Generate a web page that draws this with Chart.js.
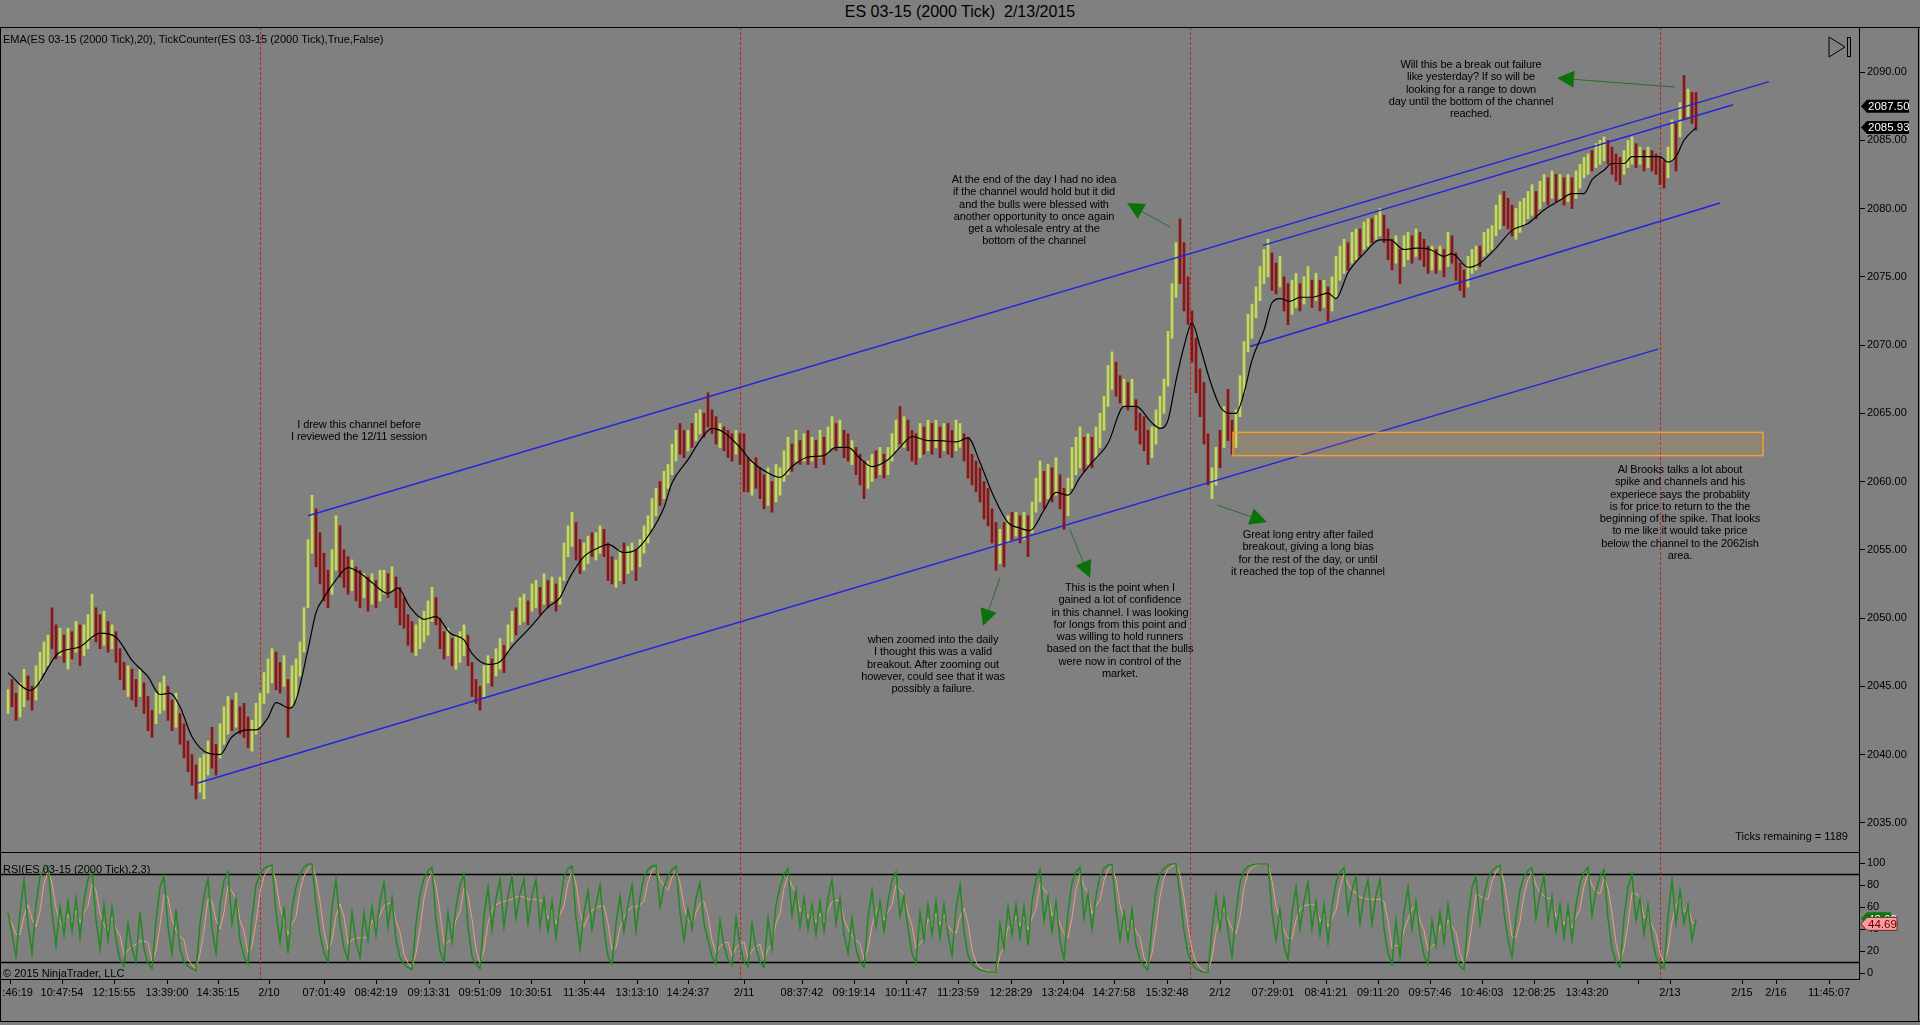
<!DOCTYPE html>
<html>
<head>
<meta charset="utf-8">
<script src="https://cdn.jsdelivr.net/npm/chart.js@4.4.1/dist/chart.umd.min.js"></script>
<style>
  html, body { margin: 0; padding: 0; background: #808080; }
  body { width: 1920px; height: 1025px; position: relative; overflow: hidden;
         font-family: "Liberation Sans", Arial, sans-serif; color: #000; }
  .line { position: absolute; background: #000; }
  .txt  { position: absolute; font-size: 11px; line-height: 12px; white-space: nowrap; }
  .note { position: absolute; font-size: 11px; line-height: 12.3px; text-align: center;
          white-space: nowrap; transform: translateX(-50%); letter-spacing: -0.1px; }
  #title { position: absolute; left: 0; top: 3px; width: 1920px; text-align: center; font-size: 16px; }
  #priceBox { position: absolute; left: 0; top: 27px; width: 1920px; height: 825px; }
  #rsiBox   { position: absolute; left: 0; top: 852px; width: 1920px; height: 168px; }
</style>
</head>
<body>
<div id="title">ES 03-15 (2000 Tick)&nbsp;&nbsp;2/13/2015</div>
<div id="priceBox"><canvas id="price"></canvas></div>
<div id="rsiBox"><canvas id="rsi"></canvas></div>

<!-- frame -->
<div class="line" style="left:0;top:27px;width:1920px;height:1px"></div>
<div class="line" style="left:0;top:27px;width:1px;height:994px"></div>
<div class="line" style="left:1918px;top:27px;width:1px;height:994px"></div>
<div class="line" style="left:0;top:1021px;width:1920px;height:1px"></div>
<div class="line" style="left:0;top:852px;width:1859px;height:1px"></div>

<div class="txt" style="left:3px;top:33px">EMA(ES 03-15 (2000 Tick),20), TickCounter(ES 03-15 (2000 Tick),True,False)</div>
<div class="txt" style="left:3px;top:863px">RSI(ES 03-15 (2000 Tick),2,3)</div>
<div class="txt" style="left:3px;top:967px">© 2015 NinjaTrader, LLC</div>
<div class="txt" style="right:72px;top:830px">Ticks remaining = 1189</div>

<svg style="position:absolute;left:1826px;top:35px" width="28" height="26">
  <polygon points="3,2 3,22 19,12" fill="none" stroke="#000" stroke-width="1"/>
  <rect x="21.5" y="2.5" width="3" height="19" fill="none" stroke="#000" stroke-width="1"/>
</svg>

<div class="note" style="left:359px;top:418px">I drew this channel before<br>I reviewed the 12/11 session</div>
<div class="note" style="left:1034px;top:173px">At the end of the day I had no idea<br>if the channel would hold but it did<br>and the bulls were blessed with<br>another opportunity to once again<br>get a wholesale entry at the<br>bottom of the channel</div>
<div class="note" style="left:1471px;top:58px">Will this be a break out failure<br>like yesterday? If so will be<br>looking for a range to down<br>day until the bottom of the channel<br>reached.</div>
<div class="note" style="left:933px;top:633px">when zoomed into the daily<br>I thought this was a valid<br>breakout. After zooming out<br>however, could see that it was<br>possibly a failure.</div>
<div class="note" style="left:1120px;top:581px">This is the point when I<br>gained a lot of confidence<br>in this channel. I was looking<br>for longs from this point and<br>was willing to hold runners<br>based on the fact that the bulls<br>were now in control of the<br>market.</div>
<div class="note" style="left:1308px;top:528px">Great long entry after failed<br>breakout, giving a long bias<br>for the rest of the day, or until<br>it reached the top of the channel</div>
<div class="note" style="left:1680px;top:463px">Al Brooks talks a lot about<br>spike and channels and his<br>experiece says the probablity<br>is for price to return to the the<br>beginning of the spike. That looks<br>to me like it would take price<br>below the channel to the 2062ish<br>area.</div>

<script>
// ---- bar data (one entry per 2000-tick bar) ----
const barLow = [
  2043.0, 2043.5, 2042.5, 2042.75, 2043.5, 2044.0, 2043.25, 2044.0, 2045.25, 2046.0,
  2046.5, 2047.75, 2047.0, 2047.25, 2046.75, 2046.25, 2047.0, 2047.5, 2046.5, 2047.25,
  2047.75, 2048.5, 2048.25, 2047.75, 2048.0, 2047.5, 2047.75, 2046.75, 2045.5, 2044.75,
  2044.25, 2044.0, 2043.5, 2044.25, 2043.0, 2041.75, 2041.25, 2042.25, 2043.0, 2043.25,
  2042.5, 2041.75, 2042.0, 2040.75, 2039.75, 2038.75, 2037.75, 2036.75, 2037.25, 2036.75,
  2038.5, 2039.0, 2038.5, 2039.75, 2040.75, 2041.5, 2041.75, 2042.0, 2041.5, 2041.25,
  2040.5, 2040.25, 2041.5, 2042.0, 2043.75, 2044.5, 2045.25, 2044.75, 2044.5, 2045.0,
  2041.25, 2043.5, 2044.0, 2045.75, 2047.5, 2050.75, 2054.75, 2053.75, 2052.5, 2051.25,
  2050.75, 2051.75, 2053.5, 2053.0, 2052.25, 2051.75, 2052.0, 2051.25, 2050.75, 2051.5,
  2050.5, 2051.0, 2050.75, 2051.25, 2051.75, 2051.5, 2052.0, 2050.75, 2049.5, 2049.25,
  2048.0, 2047.5, 2047.25, 2047.75, 2048.25, 2048.75, 2049.75, 2049.5, 2047.75, 2047.0,
  2047.25, 2046.5, 2046.25, 2046.75, 2047.25, 2046.5, 2044.25, 2043.75, 2043.25, 2044.25,
  2045.25, 2045.0, 2045.75, 2046.25, 2046.0, 2047.5, 2048.25, 2048.75, 2049.5, 2049.75,
  2049.5, 2050.5, 2050.75, 2050.25, 2051.0, 2050.75, 2051.25, 2050.5, 2051.0, 2052.75,
  2054.5, 2055.25, 2054.25, 2053.25, 2053.5, 2054.0, 2054.5, 2054.25, 2054.75, 2054.5,
  2052.75, 2052.5, 2052.25, 2052.75, 2052.5, 2053.25, 2053.5, 2052.75, 2053.75, 2054.75,
  2055.5, 2056.5, 2057.5, 2058.25, 2058.75, 2059.5, 2060.5, 2061.5, 2062.0, 2061.75,
  2062.25, 2062.5, 2063.0, 2063.5, 2063.25, 2064.0, 2063.5, 2062.75, 2062.5, 2062.25,
  2061.75, 2061.5, 2062.0, 2061.25, 2059.25, 2059.25, 2059.0, 2059.5, 2058.75, 2058.0,
  2058.25, 2057.75, 2058.5, 2059.0, 2060.0, 2060.5, 2060.75, 2061.5, 2061.25, 2061.5,
  2061.25, 2061.5, 2061.0, 2061.75, 2061.25, 2062.0, 2062.5, 2062.25, 2062.5, 2061.75,
  2061.5, 2061.25, 2060.5, 2059.75, 2058.75, 2059.5, 2060.0, 2060.25, 2060.5, 2060.25,
  2060.5, 2061.5, 2062.25, 2062.75, 2062.5, 2062.25, 2061.5, 2061.25, 2061.75, 2062.0,
  2062.25, 2062.0, 2062.5, 2061.75, 2062.25, 2062.0, 2061.75, 2062.25, 2062.5, 2061.5,
  2060.25, 2059.75, 2059.25, 2058.5, 2057.25, 2056.75, 2055.5, 2053.5, 2054.0, 2053.75,
  2055.5, 2055.75, 2056.0, 2055.5, 2055.75, 2054.5, 2056.25, 2057.75, 2058.5, 2058.0,
  2058.75, 2058.5, 2059.0, 2058.0, 2056.5, 2057.5, 2059.5, 2060.5, 2061.0, 2060.75,
  2061.25, 2061.0, 2061.75, 2062.5, 2063.75, 2065.5, 2066.75, 2066.25, 2065.75, 2065.5,
  2065.25, 2065.5, 2063.75, 2062.75, 2062.25, 2061.25, 2061.75, 2062.75, 2064.0, 2065.0,
  2067.0, 2070.5, 2073.5, 2074.5, 2072.5, 2071.5, 2068.75, 2066.5, 2064.75, 2062.75,
  2059.75, 2058.75, 2059.75, 2061.0, 2062.5, 2063.0, 2062.0, 2062.5, 2064.75, 2066.5,
  2069.5, 2070.5, 2072.0, 2073.25, 2074.5, 2075.0, 2074.0, 2073.75, 2074.25, 2072.5,
  2071.5, 2072.25, 2072.75, 2072.5, 2073.0, 2073.5, 2072.75, 2073.25, 2072.5, 2072.75,
  2071.75, 2072.5, 2073.5, 2074.75, 2075.25, 2075.5, 2076.0, 2076.25, 2076.5, 2077.0,
  2077.25, 2077.5, 2077.75, 2078.0, 2077.5, 2076.25, 2075.5, 2076.0, 2074.5, 2075.75,
  2076.25, 2076.0, 2076.5, 2076.25, 2075.75, 2075.25, 2075.5, 2075.25, 2075.5, 2075.0,
  2075.75, 2076.0, 2074.75, 2074.0, 2073.5, 2074.25, 2075.25, 2075.5, 2075.75, 2076.5,
  2076.75, 2077.0, 2078.0, 2078.5, 2078.75, 2078.5, 2078.0, 2077.75, 2078.25, 2078.75,
  2079.25, 2079.5, 2079.25, 2080.0, 2080.5, 2080.25, 2080.75, 2080.5, 2080.75, 2080.25,
  2080.5, 2080.0, 2080.75, 2081.5, 2082.25, 2082.5, 2082.75, 2083.0, 2083.25, 2083.5,
  2083.25, 2082.5, 2082.0, 2081.75, 2082.5, 2083.0, 2083.25, 2083.0, 2083.25, 2082.75,
  2083.0, 2082.75, 2082.5, 2081.75, 2081.5, 2082.25, 2083.5, 2082.75, 2085.25, 2086.5,
  2086.75, 2086.25, 2085.75
];
const barHigh = [
  2044.75, 2045.5, 2044.5, 2045.25, 2046.25, 2045.75, 2045.0, 2046.5, 2047.5, 2048.25,
  2048.75, 2050.75, 2049.5, 2049.25, 2048.75, 2049.25, 2049.0, 2049.75, 2049.5, 2049.5,
  2050.25, 2051.75, 2050.75, 2050.25, 2050.5, 2049.75, 2049.5, 2049.0, 2047.75, 2046.75,
  2046.5, 2046.25, 2045.5, 2046.25, 2045.25, 2044.25, 2043.25, 2044.5, 2045.25, 2045.75,
  2045.0, 2044.0, 2044.5, 2043.0, 2042.25, 2041.0, 2040.0, 2039.25, 2039.75, 2040.0,
  2041.0, 2042.0, 2040.75, 2042.25, 2043.5, 2044.25, 2044.0, 2044.5, 2043.5, 2043.75,
  2042.75, 2042.5, 2043.75, 2044.5, 2046.0, 2047.0, 2047.75, 2047.5, 2046.75, 2047.25,
  2045.5, 2046.5, 2047.0, 2048.25, 2050.75, 2055.75, 2059.0, 2058.0, 2056.25, 2054.75,
  2053.5, 2055.0, 2057.5, 2056.75, 2055.0, 2054.5, 2054.25, 2053.75, 2053.5, 2053.25,
  2053.0, 2053.25, 2052.75, 2053.5, 2053.5, 2053.25, 2053.75, 2053.0, 2052.25, 2051.5,
  2050.25, 2049.75, 2049.5, 2050.0, 2050.5, 2051.25, 2052.25, 2051.5, 2050.0, 2049.0,
  2049.25, 2048.5, 2048.75, 2049.0, 2049.5, 2048.75, 2046.75, 2045.5, 2045.0, 2046.5,
  2047.25, 2047.0, 2047.75, 2048.5, 2048.0, 2049.5, 2050.5, 2050.75, 2051.5, 2051.75,
  2051.25, 2052.5, 2052.75, 2052.25, 2053.25, 2052.75, 2053.0, 2052.5, 2053.0, 2055.5,
  2056.75, 2057.75, 2057.0, 2055.75, 2055.5, 2056.0, 2056.25, 2056.25, 2056.75, 2056.5,
  2055.5, 2054.5, 2054.25, 2055.0, 2055.5, 2055.25, 2055.5, 2055.0, 2055.75, 2056.75,
  2057.5, 2058.75, 2059.5, 2060.0, 2060.75, 2061.25, 2062.75, 2063.75, 2064.25, 2063.75,
  2063.75, 2064.25, 2065.0, 2065.25, 2065.0, 2066.5, 2065.25, 2064.75, 2064.25, 2064.0,
  2063.75, 2063.5, 2063.75, 2063.5, 2063.5, 2061.75, 2061.5, 2061.75, 2061.0, 2060.5,
  2061.0, 2060.0, 2061.25, 2061.0, 2062.25, 2063.25, 2062.75, 2063.75, 2063.0, 2063.5,
  2063.75, 2063.25, 2063.0, 2063.75, 2063.25, 2064.0, 2064.75, 2064.25, 2064.5, 2063.75,
  2063.5, 2063.0, 2062.5, 2062.0, 2061.5, 2061.5, 2062.0, 2062.25, 2062.5, 2062.0,
  2062.5, 2063.5, 2064.5, 2065.5, 2064.75, 2064.5, 2063.75, 2063.5, 2064.25, 2064.0,
  2064.5, 2064.25, 2064.5, 2064.0, 2064.25, 2064.25, 2063.75, 2064.5, 2064.25, 2063.5,
  2063.25, 2062.0, 2061.5, 2061.0, 2060.0, 2059.5, 2058.0, 2057.0, 2056.5, 2057.0,
  2057.5, 2057.75, 2057.75, 2057.5, 2057.75, 2057.5, 2058.5, 2060.25, 2061.5, 2060.75,
  2061.25, 2061.0, 2061.75, 2060.5, 2059.5, 2060.25, 2062.5, 2063.25, 2064.0, 2063.25,
  2063.5, 2063.25, 2064.0, 2065.0, 2066.25, 2068.5, 2069.5, 2068.75, 2067.75, 2067.5,
  2067.25, 2067.5, 2066.0, 2065.0, 2064.75, 2063.75, 2064.0, 2065.25, 2066.25, 2067.5,
  2071.0, 2074.5, 2077.5, 2079.25, 2077.5, 2075.0, 2072.5, 2070.5, 2068.25, 2067.25,
  2063.5, 2061.0, 2062.5, 2063.75, 2065.5, 2066.75, 2064.5, 2065.25, 2067.75, 2070.25,
  2072.25, 2073.0, 2074.25, 2075.75, 2077.0, 2077.75, 2076.75, 2076.0, 2076.5, 2075.0,
  2074.5, 2074.75, 2075.25, 2074.5, 2075.0, 2075.75, 2074.75, 2075.25, 2074.75, 2074.75,
  2074.25, 2075.0, 2076.5, 2077.25, 2077.75, 2077.5, 2078.25, 2078.5, 2078.5, 2079.0,
  2079.25, 2079.25, 2079.5, 2080.0, 2079.5, 2078.5, 2077.75, 2078.0, 2077.0, 2078.0,
  2078.25, 2078.0, 2078.5, 2078.25, 2077.75, 2077.25, 2077.25, 2077.0, 2077.25, 2077.0,
  2078.25, 2078.0, 2076.75, 2076.0, 2075.5, 2076.5, 2077.0, 2077.25, 2077.25, 2078.25,
  2078.5, 2078.75, 2080.25, 2081.0, 2081.25, 2080.75, 2080.25, 2080.0, 2080.5, 2080.75,
  2081.25, 2081.75, 2081.25, 2082.0, 2082.5, 2082.25, 2082.75, 2082.5, 2082.5, 2082.25,
  2082.5, 2082.25, 2082.75, 2083.25, 2083.75, 2084.0, 2084.25, 2084.75, 2085.0, 2085.25,
  2085.0, 2084.5, 2084.0, 2083.75, 2084.25, 2085.0, 2085.25, 2084.75, 2084.5, 2084.25,
  2084.5, 2084.25, 2084.0, 2083.75, 2083.5, 2084.5, 2086.5, 2086.25, 2087.75, 2089.75,
  2088.75, 2088.5, 2088.5
];
// 1 = up bar (close above open), 0 = down bar
const barUp = [
  1,0,0,1,1,0,0,1,1,1, 1,0,0,1,0,1,0,1,0,1, 1,1,0,0,1,0,1,0,0,0, 1,0,0,1,0,0,0,1,1,1,
  0,0,1,0,0,0,0,0,1,1, 1,0,0,1,1,1,0,1,0,0, 0,1,1,1,1,1,1,0,0,1, 0,1,1,1,1,1,1,0,0,0,
  0,1,1,0,0,0,1,0,0,1, 0,1,0,1,1,0,1,0,0,0, 0,0,1,1,1,1,1,0,0,0, 1,0,1,1,1,0,0,0,0,1,
  1,0,1,1,0,1,1,0,1,1, 0,1,1,0,1,0,1,0,1,1, 1,1,0,0,1,1,0,1,1,0, 0,0,1,1,0,1,1,0,1,1,
  1,1,1,0,1,1,1,1,0,0, 1,0,1,1,0,0,0,0,1,0, 0,0,1,0,0,0,1,0,0,0, 1,0,1,1,1,1,0,1,0,1,
  0,1,0,1,0,1,1,0,1,0, 0,1,0,0,0,1,1,0,1,0, 1,1,1,0,1,0,0,0,1,0, 1,0,1,0,1,0,0,1,1,0,
  0,0,0,0,0,0,0,0,1,0, 1,0,1,0,1,0,1,1,1,0, 1,0,1,0,0,1,1,1,1,0, 1,0,1,1,1,1,1,0,0,1,
  0,1,0,0,0,0,1,1,1,1, 1,1,1,0,0,0,0,0,0,0, 0,1,1,0,1,0,0,1,1,1, 1,1,1,1,1,1,0,0,1,0,
  0,1,1,0,1,1,0,1,0,1, 0,1,1,1,1,0,1,1,0,1, 1,0,1,1,0,0,0,1,0,1, 1,0,1,0,0,0,1,0,1,0,
  1,0,0,0,0,1,1,1,0,1, 1,1,1,1,0,0,0,1,1,1, 1,1,0,1,1,0,1,0,1,0, 1,0,1,1,1,1,0,1,1,1,
  0,0,0,0,1,1,1,0,1,0, 1,0,0,0,0,1,1,0,1,0, 1,0,0
];

// EMA(20): bar index / value
const emaIdx = [0, 5.5, 12.5, 18, 23, 27, 31, 35, 38, 40.5, 43, 46, 50, 53, 56, 60, 62, 65, 67, 70.5,
  72, 75, 77, 79, 82, 85, 88, 91, 95, 97.5, 100.5, 104, 107, 110.5, 114, 116, 120, 123, 126, 130.5,
  135, 138, 140.5, 144, 148, 150, 154, 157, 160.5, 164, 166, 170, 173, 176, 179, 183, 185.5, 189, 193, 196,
  200, 204, 207, 210, 213, 216, 220, 223, 226, 230, 233, 237, 240, 243, 246, 250, 253, 255.5, 259, 262,
  265, 268, 271, 275, 279, 282, 286, 288, 290, 292, 294, 296, 298, 300.5, 303, 305.5, 307, 309, 311, 314,
  316, 318, 320.5, 323, 326, 330, 332, 335, 339, 343, 345.5, 349, 352, 355.5, 359, 361, 365, 368, 372, 376,
  380, 384, 388, 391, 394, 396, 399, 401, 404, 406, 410, 413, 415, 417, 419, 422];
const emaVal = [2046.0, 2044.7, 2047.4, 2047.9, 2048.9, 2048.6, 2046.9, 2045.7, 2044.4, 2044.5, 2043.5, 2041.3, 2040.1, 2040.0, 2041.3, 2041.8, 2041.8, 2042.7, 2043.8, 2043.4,
  2044.0, 2047.7, 2050.4, 2051.5, 2052.8, 2053.7, 2053.3, 2052.6, 2051.8, 2052.2, 2050.8, 2049.9, 2050.1, 2048.9, 2048.4, 2047.4, 2046.6, 2046.8, 2047.9, 2049.3,
  2050.8, 2051.5, 2053.0, 2054.5, 2055.2, 2055.4, 2054.8, 2055.0, 2056.2, 2058.1, 2059.9, 2061.6, 2063.0, 2063.9, 2063.6, 2062.5, 2061.6, 2060.8, 2060.3, 2061.1,
  2061.8, 2061.9, 2062.5, 2062.5, 2061.7, 2061.1, 2061.6, 2062.5, 2063.3, 2063.0, 2063.0, 2062.9, 2063.2, 2061.4, 2059.2, 2057.0, 2056.6, 2056.4, 2057.9, 2059.2,
  2059.0, 2060.3, 2061.4, 2062.8, 2065.5, 2065.5, 2064.3, 2063.9, 2064.5, 2067.4, 2069.9, 2071.6, 2069.9, 2067.4, 2065.5, 2065.0, 2065.0, 2066.5, 2068.9, 2071.1,
  2073.1, 2073.4, 2073.2, 2073.5, 2073.5, 2073.8, 2073.4, 2075.3, 2076.7, 2077.7, 2077.7, 2077.0, 2077.1, 2077.0, 2076.5, 2076.7, 2075.7, 2076.0, 2077.1, 2078.4,
  2078.9, 2079.9, 2080.6, 2081.1, 2081.1, 2082.1, 2082.8, 2083.3, 2083.3, 2083.8, 2083.8, 2083.8, 2083.4, 2083.8, 2085.0, 2085.93];

// RSI(2,3): RSI line and its average, one value per bar
const rsiVals = [
  55,35,15,55,85,45,18,62,88,94, 96,55,25,60,35,65,38,68,32,66, 85,93,48,22,62,30,60,30,12,6,
  45,22,10,55,22,8,4,48,78,88, 42,18,58,22,10,6,4,2,45,70, 86,40,18,62,84,92,45,68,30,15,
  8,50,80,90,95,97,98,55,28,60, 18,58,78,90,96,99,99,62,35,18, 10,60,85,45,22,12,55,28,14,55,
  30,60,35,65,82,42,68,30,14,8, 5,3,45,72,86,93,96,48,20,10, 55,28,60,80,90,42,15,8,4,52,
  78,40,68,85,42,70,88,50,72,85, 45,70,85,42,68,38,65,32,62,88, 95,97,50,22,55,75,40,62,80,40,
  15,8,45,70,38,62,80,38,68,88, 94,97,98,60,78,88,94,97,55,30, 58,40,68,82,45,30,15,8,48,25,
  12,7,50,25,10,6,45,22,10,5, 50,22,62,78,90,95,52,75,42,68, 40,62,35,65,38,68,85,45,68,35,
  18,50,22,10,5,50,75,42,65,38, 65,84,92,52,70,40,18,9,55,30, 62,35,65,32,62,35,16,58,80,38,
  16,8,5,3,2,1,1,0.5,45,22, 60,35,62,32,60,25,65,85,94,48, 70,38,65,30,12,55,82,92,96,50,
  72,40,70,88,95,98,99,58,30,55, 30,58,25,12,6,3,45,75,90,95, 98,99,99.5,70,38,18,8,4,2,1,
  0.5,40,70,40,68,38,15,55,82,93, 97,98,99,99,99,99,55,30,58,25, 12,55,78,40,65,82,40,65,35,62,
  28,60,82,92,96,55,75,88,45,70, 85,45,70,85,40,18,8,48,15,55, 78,40,65,35,16,8,48,25,55,28,
  62,35,14,6,3,50,78,88,45,70, 86,93,96,98,55,30,15,50,75,88, 93,96,50,72,88,45,70,38,62,32,
  60,30,62,82,92,96,52,75,88,94, 50,22,10,5,50,78,90,48,68,35, 62,32,15,7,4,52,85,45,75,45,
  62,30,48.6
];
const rsiAvg = [
  50,45,35,35,52,62,49,42,56,81, 93,82,59,47,40,53,46,57,46,55, 61,81,75,54,44,38,51,40,34,16,
  21,24,26,29,29,28,11,20,43,71, 69,49,39,33,30,13,7,4,17,39, 67,65,48,40,55,79,74,68,48,38,
  18,24,46,73,88,94,97,83,60,48, 35,45,51,75,88,95,98,87,65,38, 21,29,52,63,51,26,30,32,32,32,
  33,48,42,53,61,63,64,47,37,17, 9,5,18,40,68,84,92,79,55,26, 28,31,48,56,77,71,49,22,9,21,
  45,57,62,64,65,66,67,69,70,69, 67,67,67,66,65,49,57,45,53,61, 82,93,81,56,42,51,57,59,61,61,
  45,21,23,41,51,57,60,60,62,65, 83,93,96,85,79,75,87,93,82,61, 48,43,55,63,65,52,30,18,24,27,
  28,15,23,27,28,14,20,24,26,12, 22,26,45,54,77,88,79,74,56,62, 50,57,46,54,46,57,64,66,66,49,
  40,34,30,27,12,22,43,56,61,48, 56,62,80,76,71,54,43,22,27,31, 49,42,54,44,53,43,38,36,51,59,
  45,21,10,5,3,2,1,1,16,23, 42,39,52,43,51,39,50,58,81,76, 71,52,58,44,36,32,50,76,90,79,
  73,54,61,66,84,94,97,85,62,48, 38,48,38,32,14,7,18,41,70,87, 94,97,99,89,69,42,21,10,5,2,
  1,14,37,50,59,49,40,36,51,77, 91,96,98,99,99,99,84,61,48,38, 32,31,48,58,61,62,62,62,47,54,
  42,50,57,78,90,81,75,73,69,68, 67,67,67,67,65,48,22,25,24,39, 49,58,61,47,39,20,24,27,43,36,
  48,42,37,18,8,20,44,72,70,68, 67,83,92,96,83,61,33,32,47,71, 85,92,80,73,70,68,68,51,57,44,
  51,41,51,58,79,90,80,74,72,86, 77,55,27,12,22,44,73,72,69,50, 55,43,36,18,9,21,47,61,68,55,
  61,46,44.69
];

// drawing objects, in bar index / price
const chanUpper = [[75, 2057.5], [440.25, 2089.3]];
const chanLower = [[47.25, 2037.9], [412.5, 2069.7]];
const innerUpper = [[313.75, 2077.3], [431.25, 2087.6]];
const innerLower = [[310.5, 2069.9], [428, 2080.4]];
const zone = [306.25, 438.75, 2061.9, 2063.6];          // start, end, low, high
const arrows = [                                          // tail idx, tail price, head idx, head price
  [290.5, 2078.64, 279.75, 2080.4],
  [416.75, 2088.9, 387.25, 2089.56],
  [248, 2052.96, 243.75, 2049.41],
  [265.5, 2056.45, 270.5, 2052.93],
  [302.25, 2058.28, 314.75, 2057.03]
];
const sessionBreaks = [63, 183, 295.5, 413];
const lastPrice = 2087.50;
const rsiLevels = [10, 90];

// axes
const priceTicks = [2035, 2040, 2045, 2050, 2055, 2060, 2065, 2070, 2075, 2080, 2085, 2090];
const rsiTicks = [0, 20, 40, 60, 80, 100];
const timeTickIdx = [0.5, 13.5, 26.5, 39.75, 52.5, 65.25, 79, 92, 105.25, 118, 130.75, 144, 157.25, 170,
  184, 198.5, 211.5, 224.5, 237.5, 250.75, 263.75, 276.5, 289.75, 303, 316.25, 329.5, 342.5, 355.5,
  368.5, 381.5, 394.75, 407.5, 415.5, 433.5, 442, 455.25];
const timeTickLabels = ['     :46:19', '10:47:54', '12:15:55', '13:39:00', '14:35:15', '2/10', '07:01:49',
  '08:42:19', '09:13:31', '09:51:09', '10:30:51', '11:35:44', '13:13:10', '14:24:37', '2/11', '08:37:42',
  '09:19:14', '10:11:47', '11:23:59', '12:28:29', '13:24:04', '14:27:58', '15:32:48', '2/12', '07:29:01',
  '08:41:21', '09:11:20', '09:57:46', '10:46:03', '12:08:25', '13:43:20', '', '2/13', '2/15', '2/16', '11:45:07'];

const X_MIN = -2, X_MAX = 462.75;
const UP = '#c4dc52', DOWN = '#8e1414', CHAN = '#2424dc';

Chart.defaults.font.family = '"Liberation Sans", Arial, sans-serif';
Chart.defaults.font.size = 11;
Chart.defaults.color = '#000';

function sessionLines(chart) {
  const { ctx, chartArea: a, scales: { x } } = chart;
  ctx.save();
  ctx.strokeStyle = '#c81e1e';
  ctx.lineWidth = 1;
  ctx.setLineDash([3, 2]);
  sessionBreaks.forEach(v => {
    const px = Math.round(x.getPixelForValue(v)) + 0.5;
    ctx.beginPath(); ctx.moveTo(px, a.top); ctx.lineTo(px, a.bottom); ctx.stroke();
  });
  ctx.restore();
}

function tag(ctx, x, y, text, bg, fg, w, border) {
  const h = 13;
  ctx.beginPath();
  ctx.moveTo(x, y);
  ctx.lineTo(x + 6, y - h / 2);
  ctx.lineTo(x + w, y - h / 2);
  ctx.lineTo(x + w, y + h / 2);
  ctx.lineTo(x + 6, y + h / 2);
  ctx.closePath();
  ctx.fillStyle = bg;
  ctx.fill();
  if (border) { ctx.strokeStyle = border; ctx.lineWidth = 1; ctx.stroke(); }
  ctx.fillStyle = fg;
  ctx.font = '11.5px "Liberation Sans", Arial, sans-serif';
  ctx.textAlign = 'left';
  ctx.textBaseline = 'middle';
  ctx.fillText(text, x + 7, y + 0.5);
}

const priceDecor = {
  id: 'priceDecor',
  beforeDatasetsDraw(chart) { sessionLines(chart); },
  afterDatasetsDraw(chart) {
    const { ctx, scales: { x, y } } = chart;
    ctx.save();
    // support zone
    const x1 = x.getPixelForValue(zone[0]), x2 = x.getPixelForValue(zone[1]);
    const y1 = y.getPixelForValue(zone[3]), y2 = y.getPixelForValue(zone[2]);
    ctx.fillStyle = 'rgba(255,160,40,0.13)';
    ctx.fillRect(x1, y1, x2 - x1, y2 - y1);
    ctx.strokeStyle = '#f0a030';
    ctx.lineWidth = 1.5;
    ctx.strokeRect(x1, y1, x2 - x1, y2 - y1);
    // arrows
    arrows.forEach(([ti, tp, hi, hp]) => {
      const tx = x.getPixelForValue(ti), ty = y.getPixelForValue(tp);
      const hx = x.getPixelForValue(hi), hy = y.getPixelForValue(hp);
      const ang = Math.atan2(hy - ty, hx - tx), L = 17, W = 8.5;
      const bx = hx - L * Math.cos(ang), by = hy - L * Math.sin(ang);
      ctx.strokeStyle = '#2a6e2a';
      ctx.lineWidth = 1;
      ctx.beginPath(); ctx.moveTo(tx, ty); ctx.lineTo(bx, by); ctx.stroke();
      ctx.fillStyle = '#0b720b';
      ctx.beginPath();
      ctx.moveTo(hx, hy);
      ctx.lineTo(bx - W * Math.sin(ang), by + W * Math.cos(ang));
      ctx.lineTo(bx + W * Math.sin(ang), by - W * Math.cos(ang));
      ctx.closePath();
      ctx.fill();
    });
    ctx.restore();
  },
  afterDraw(chart) {
    const { ctx, chartArea: a, scales: { y } } = chart;
    const ema = emaVal[emaVal.length - 1];
    ctx.save();
    tag(ctx, a.right + 2, y.getPixelForValue(ema), ema.toFixed(2), '#000', '#fff', 48);
    tag(ctx, a.right + 2, y.getPixelForValue(lastPrice), lastPrice.toFixed(2), '#000', '#fff', 48);
    ctx.restore();
  }
};

const rsiDecor = {
  id: 'rsiDecor',
  beforeDatasetsDraw(chart) {
    const { ctx, chartArea: a, scales: { y } } = chart;
    ctx.save();
    ctx.strokeStyle = '#000';
    ctx.lineWidth = 1.5;
    rsiLevels.forEach(v => {
      const py = Math.round(y.getPixelForValue(v)) + 0.5;
      ctx.beginPath(); ctx.moveTo(a.left, py); ctx.lineTo(a.right, py); ctx.stroke();
    });
    ctx.restore();
    sessionLines(chart);
  },
  afterDraw(chart) {
    const { ctx, chartArea: a, scales: { y } } = chart;
    const r = rsiVals[rsiVals.length - 1], m = rsiAvg[rsiAvg.length - 1];
    const my = y.getPixelForValue(m);
    ctx.save();
    tag(ctx, a.right + 2, my - 5, r.toFixed(2), '#0a780a', '#fff', 30);
    tag(ctx, a.right + 2, my, m.toFixed(2), '#ff9a9a', '#5a0000', 36, '#6a3030');
    ctx.restore();
  }
};

function fitRightAxis(s) { s.width = 61; s.paddingTop = 0; s.paddingBottom = 0; }

const bars = barLow.map((lo, i) => ({ x: i, y: [lo, barHigh[i]] }));
const line2 = pts => pts.map(([x, y]) => ({ x, y }));
const chanStyle = { type: 'line', borderColor: CHAN, borderWidth: 1.5, pointRadius: 0, order: 1 };

new Chart(document.getElementById('price'), {
  type: 'bar',
  data: {
    datasets: [
      { type: 'line', data: emaIdx.map((v, i) => ({ x: v, y: emaVal[i] })), borderColor: '#000',
        borderWidth: 1.2, pointRadius: 0, cubicInterpolationMode: 'monotone', order: 0 },
      Object.assign({ data: line2(chanUpper) }, chanStyle),
      Object.assign({ data: line2(chanLower) }, chanStyle),
      Object.assign({ data: line2(innerUpper) }, chanStyle),
      Object.assign({ data: line2(innerLower) }, chanStyle),
      { type: 'bar', data: bars, backgroundColor: barUp.map(u => u ? UP : DOWN),
        barThickness: 2, grouped: false, order: 5 }
    ]
  },
  options: {
    responsive: true, maintainAspectRatio: false, animation: false, events: [],
    layout: { padding: 0 },
    plugins: { legend: { display: false }, tooltip: { enabled: false } },
    scales: {
      x: { type: 'linear', min: X_MIN, max: X_MAX, display: false, offset: false },
      y: {
        position: 'right', min: 2032.86, max: 2093.30,
        afterBuildTicks: s => { s.ticks = priceTicks.map(v => ({ value: v })); },
        afterFit: fitRightAxis,
        grid: { drawOnChartArea: false, color: '#000', tickLength: 6 },
        border: { color: '#000' },
        ticks: { padding: 2, color: '#000', callback: v => v.toFixed(2) }
      }
    }
  },
  plugins: [priceDecor]
});

new Chart(document.getElementById('rsi'), {
  type: 'line',
  data: {
    datasets: [
      { data: rsiVals.map((v, i) => ({ x: i, y: v })), borderColor: '#1f8a1f', borderWidth: 1.5,
        pointRadius: 0, tension: 0, order: 0 },
      { data: rsiAvg.map((v, i) => ({ x: i, y: v })), borderColor: '#e8a07c', borderWidth: 1,
        pointRadius: 0, tension: 0, order: 1 }
    ]
  },
  options: {
    responsive: true, maintainAspectRatio: false, animation: false, events: [],
    layout: { padding: 0 },
    plugins: { legend: { display: false }, tooltip: { enabled: false } },
    scales: {
      x: {
        type: 'linear', min: X_MIN, max: X_MAX, offset: false,
        afterBuildTicks: s => { s.ticks = timeTickIdx.map(v => ({ value: v })); },
        afterFit: s => { s.height = 41; s.paddingLeft = 0; s.paddingRight = 0; },
        grid: { drawOnChartArea: false, color: '#000', tickLength: 5 },
        border: { color: '#000' },
        ticks: { autoSkip: false, maxRotation: 0, padding: 2, color: '#000',
                 callback: (v, i) => timeTickLabels[i] }
      },
      y: {
        position: 'right', min: -5.45, max: 110,
        afterBuildTicks: s => { s.ticks = rsiTicks.map(v => ({ value: v })); },
        afterFit: fitRightAxis,
        grid: { drawOnChartArea: false, color: '#000', tickLength: 6 },
        border: { color: '#000' },
        ticks: { padding: 2, color: '#000', callback: v => String(v) }
      }
    }
  },
  plugins: [rsiDecor]
});
</script>
</body>
</html>
